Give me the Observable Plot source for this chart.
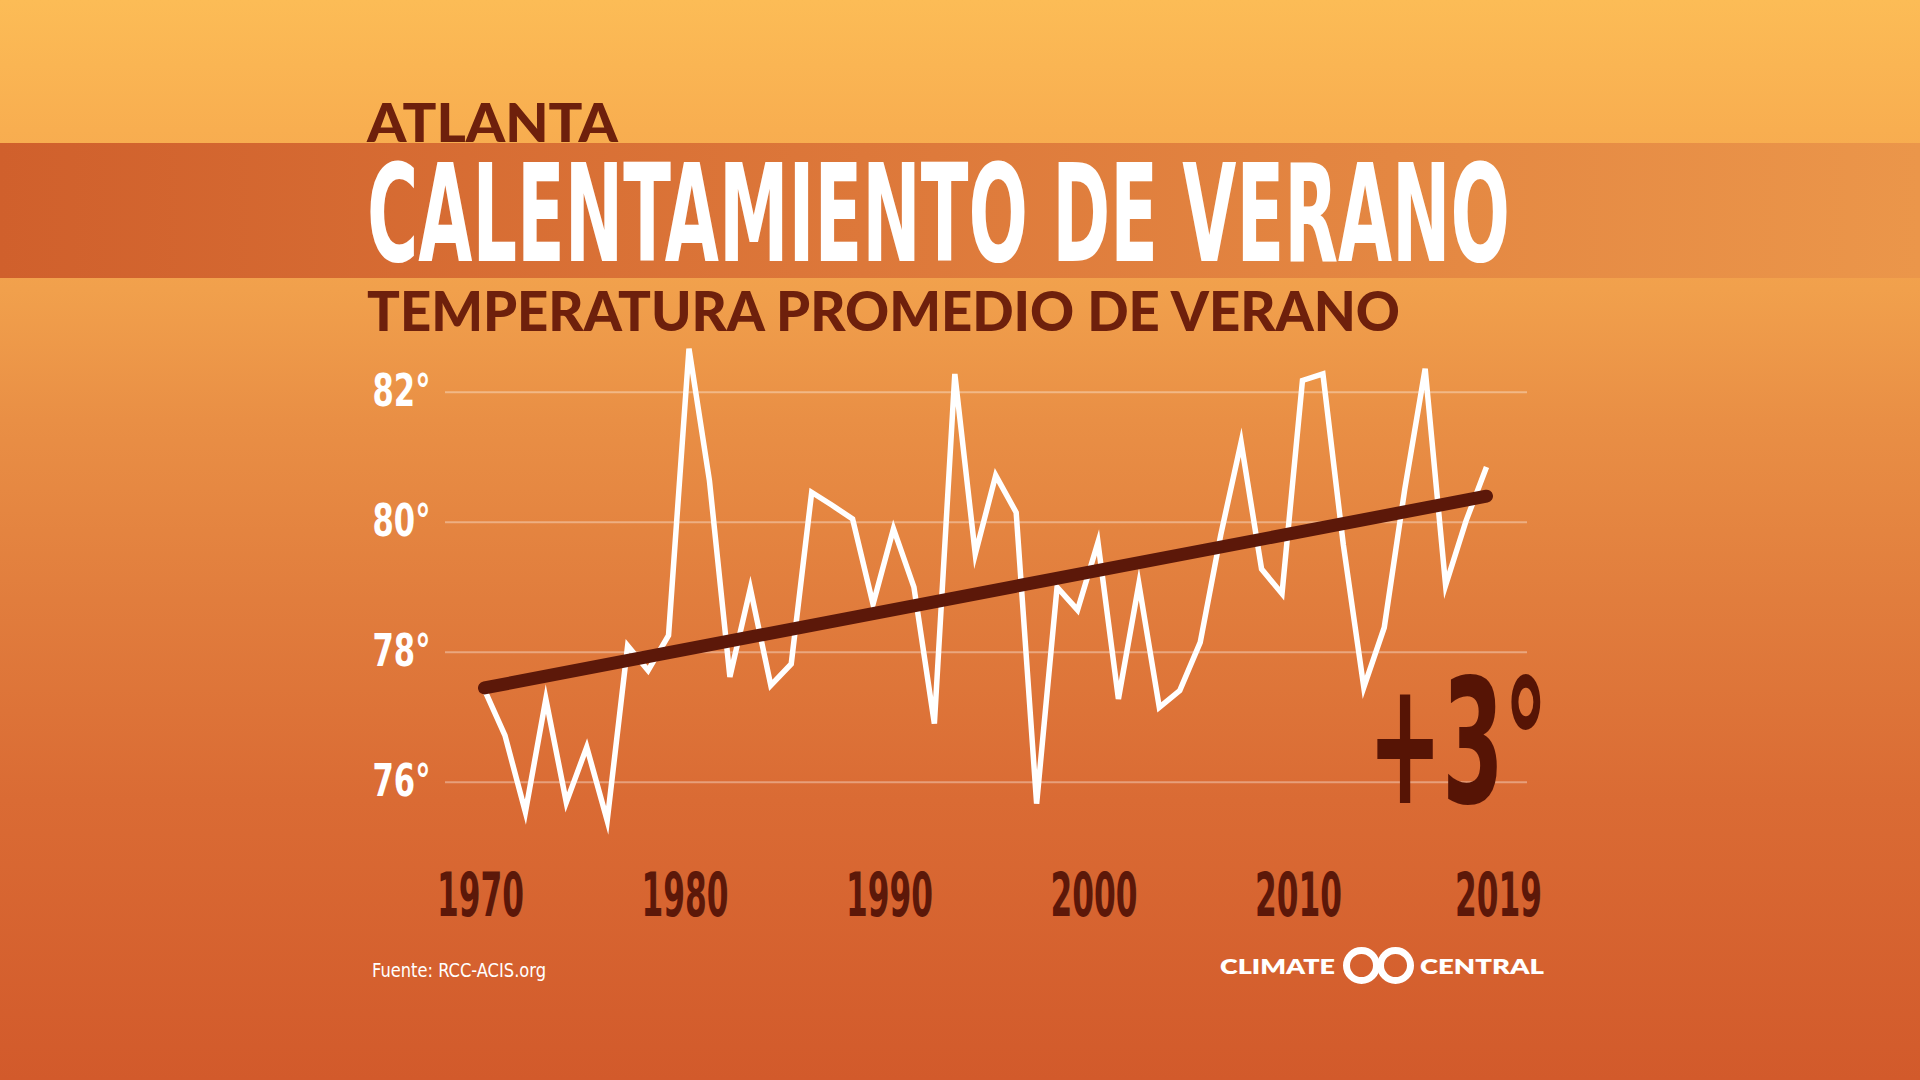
<!DOCTYPE html>
<html>
<head>
<meta charset="utf-8">
<script src="https://cdn.jsdelivr.net/npm/d3@7"></script>
<script src="https://cdn.jsdelivr.net/npm/@observablehq/plot@0.6"></script>
<style>
  html, body { margin: 0; padding: 0; }
  #page {
    position: relative; width: 1920px; height: 1080px; overflow: hidden;
    background: linear-gradient(to bottom, #fcbc56 0px, #f8ae50 130px, #f1a04c 290px, #e98f45 420px, #e17d3d 600px, #da6b34 800px, #d25a2b 1080px);
  }
  #band {
    position: absolute; left: 0; top: 143px; width: 1920px; height: 135px;
    background: linear-gradient(to right, #d0602c 0%, #dd783a 45%, #eb964a 100%);
  }
  .t { position: absolute; white-space: nowrap; line-height: 0.75; margin: 0; }
  .cond { font-family: "Liberation Sans Narrow", "DejaVu Sans Condensed", "Arial Narrow", sans-serif; font-weight: bold; }
  .geo { font-family: "Lato", "Open Sans", sans-serif; font-weight: 900; }
  #chart { position: absolute; left: 0; top: 300px; }
  .ring { position: absolute; width: 37px; height: 37px; box-sizing: border-box; border: 7px solid #fff; border-radius: 50%; }
</style>
</head>
<body>
<div id="page">
  <div id="band"></div>
  <div class="t geo" id="city" style="color:#6e200c">ATLANTA</div>
  <div class="t cond" id="title" style="color:#ffffff">CALENTAMIENTO DE VERANO</div>
  <div class="t geo" id="subtitle" style="color:#6e200c">TEMPERATURA PROMEDIO DE VERANO</div>
  <div id="chart"></div>
  <div class="t cond" id="delta" style="color:#561405"></div>
  <div class="t cond" id="source" style="color:#ffffff;font-weight:normal">Fuente: RCC-ACIS.org</div>
  <div class="t geo" id="logoL" style="color:#ffffff;font-weight:800">CLIMATE</div>
  <div class="t geo" id="logoR" style="color:#ffffff;font-weight:800">CENTRAL</div>
  <div class="ring" style="left:1343px;top:947px"></div>
  <div class="ring" style="left:1377px;top:947px"></div>
</div>
<script>
// ---- Data ----
const years = [1970,1971,1972,1973,1974,1975,1976,1977,1978,1979,
               1980,1981,1982,1983,1984,1985,1986,1987,1988,1989,
               1990,1991,1992,1993,1994,1995,1996,1997,1998,1999,
               2000,2001,2002,2003,2004,2005,2006,2007,2008,2009,
               2010,2011,2012,2013,2014,2015,2016,2017,2018,2019];
const temps = [77.42,76.72,75.54,77.28,75.69,76.54,75.41,78.10,77.72,78.26,
               82.67,80.64,77.62,78.98,77.49,77.82,80.46,80.26,80.05,78.74,
               79.90,79.00,76.90,82.28,79.51,80.72,80.15,75.67,79.00,78.65,
               79.69,77.28,79.05,77.15,77.41,78.15,79.80,81.23,79.28,78.90,
               82.18,82.28,79.65,77.46,78.38,80.50,82.36,79.03,80.02,80.85];
const trendYears = [1970, 2019];
const trendTemps = [77.45, 80.40];
const yTicks = [76, 78, 80, 82];
const xTicks = [1970, 1980, 1990, 2000, 2010];
const xTickLast = [2019];

const series = years.map((year, i) => ({year, temp: temps[i]}));
const trend = trendYears.map((year, i) => ({year, temp: trendTemps[i]}));

const COND = '"Liberation Sans Narrow", "DejaVu Sans Condensed", "Arial Narrow", sans-serif';
const BROWN = "#5c1809";

const chart = Plot.plot({
  width: 1920, height: 640,
  marginLeft: 445, marginRight: 393, marginTop: 26.7, marginBottom: 93.3,
  x: {domain: [1970, 2019], insetLeft: 39, insetRight: 41},
  y: {domain: [75, 83]},
  style: {background: "transparent", overflow: "visible"},
  marks: [
    Plot.gridY(yTicks, {stroke: "#ffffff", strokeOpacity: 0.35, strokeWidth: 2}),
    Plot.axisY(yTicks, {label: null, tickSize: 0, tickPadding: 15, tickFormat: d => `${d}°`, fontSize: 44, fontWeight: "bold", fontFamily: COND, color: "#ffffff"}),
    Plot.axisX(xTicks, {label: null, tickSize: 0, tickPadding: 26, tickFormat: d => String(d), fontSize: 60, fontWeight: "bold", fontFamily: COND, color: BROWN, dx: -4}),
    Plot.axisX(xTickLast, {label: null, tickSize: 0, tickPadding: 26, tickFormat: d => String(d), fontSize: 60, fontWeight: "bold", fontFamily: COND, color: BROWN, dx: 12}),
    Plot.line(series, {x: "year", y: "temp", stroke: "#ffffff", strokeWidth: 5.5, strokeLinejoin: "miter", strokeMiterlimit: 6, strokeLinecap: "butt"}),
    Plot.line(trend, {x: "year", y: "temp", stroke: BROWN, strokeWidth: 13, strokeLinecap: "round"})
  ]
});
document.getElementById("chart").appendChild(chart);

// squeeze axis labels to the condensed widths of the reference
d3.select(chart).selectAll('g[aria-label="x-axis tick label"] text')
  .attr("textLength", 87).attr("lengthAdjust", "spacingAndGlyphs");
d3.select(chart).selectAll('g[aria-label="y-axis tick label"] text')
  .attr("textLength", 58).attr("lengthAdjust", "spacingAndGlyphs");

// delta annotation derived from the trend values
document.getElementById("delta").textContent = `+${Math.round(trendTemps[1] - trendTemps[0])}°`;

// ---- text placement helper (cap height, baseline, width) ----
const ctx = document.createElement("canvas").getContext("2d");
function place(id, left, baseline, cap, width) {
  const el = document.getElementById(id);
  const cs = getComputedStyle(el);
  ctx.font = `${cs.fontWeight} 100px ${cs.fontFamily}`;
  const m = ctx.measureText(el.textContent);
  const fs = 100 * cap / m.actualBoundingBoxAscent;
  el.style.fontSize = fs + "px";
  el.style.left = left + "px";
  el.style.top = "0px";
  const mk = document.createElement("span");
  mk.style.cssText = "display:inline-block;width:0;height:0;vertical-align:baseline";
  el.appendChild(mk);
  const b = mk.getBoundingClientRect().bottom - el.getBoundingClientRect().top;
  el.style.top = (baseline - b) + "px";
  const w = el.getBoundingClientRect().width;
  el.style.transformOrigin = "0 0";
  el.style.transform = `scaleX(${width / w})`;
}
place("city", 367, 142, 39, 251);
place("title", 367, 261, 102, 1143);
place("subtitle", 367, 331, 40, 1033);
place("delta", 1368, 803, 130, 180);
place("source", 372, 977, 14, 174);
place("logoL", 1220, 973.5, 15, 115);
place("logoR", 1420, 973.5, 15, 124);
</script>
</body>
</html>
